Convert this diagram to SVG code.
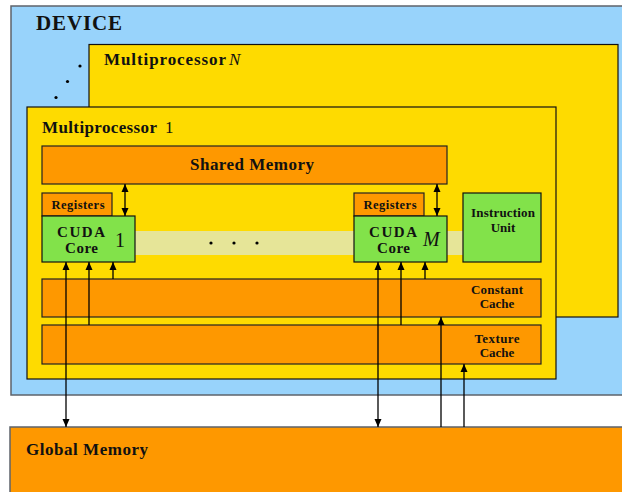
<svg xmlns="http://www.w3.org/2000/svg" width="622" height="492" viewBox="0 0 622 492">
<style>
.dev{fill:#98D3FB;stroke:#5d636b;stroke-width:1.5}
.mp{fill:#FEDB00;stroke:#111;stroke-width:1.2}
.or{fill:#FE9800;stroke:#222;stroke-width:1.2}
.gr{fill:#82E24A;stroke:#111;stroke-width:1.2}
.t{font-family:"Liberation Serif","DejaVu Serif",serif;font-weight:bold;fill:#111}
.n{font-family:"Liberation Serif","DejaVu Serif",serif;font-weight:normal;fill:#111}
.c{text-anchor:middle}
.a{stroke:#000;stroke-width:1.3;fill:none}
</style>
<defs>
<marker id="ah" markerUnits="userSpaceOnUse" markerWidth="9" markerHeight="8" refX="8" refY="4" orient="auto-start-reverse">
<path d="M0,0.5 L8,4 L0,7.5 z" fill="#000"/>
</marker>
</defs>
<g id="device">
<rect class="dev" x="11" y="6" width="620" height="389"/>
<text class="t" x="36" y="30" font-size="21" textLength="86">DEVICE</text>
</g>
<g id="dots-mp">
<circle cx="80" cy="66" r="1.6" fill="#000"/>
<circle cx="67.5" cy="81.5" r="1.6" fill="#000"/>
<circle cx="56" cy="97.5" r="1.6" fill="#000"/>
</g>
<g id="multiprocessorN">
<rect class="mp" x="89" y="44.5" width="529" height="272.5"/>
<text class="t" x="104" y="65" font-size="17" textLength="122">Multiprocessor</text>
<text class="n" x="229" y="65" font-size="17" font-style="italic">N</text>
</g>
<g id="multiprocessor1">
<rect class="mp" x="27" y="107" width="529" height="272"/>
<text class="t" x="42" y="133" font-size="17" textLength="115">Multiprocessor</text>
<text class="n" x="165" y="133" font-size="17">1</text>
</g>
<g id="band">
<rect x="135" y="231" width="328" height="24" fill="#E6E598"/>
<circle cx="211" cy="243" r="1.6" fill="#000"/>
<circle cx="234" cy="243" r="1.6" fill="#000"/>
<circle cx="257" cy="243" r="1.6" fill="#000"/>
</g>
<g id="shared-memory">
<rect class="or" x="42" y="146" width="405" height="38"/>
<text class="t c" x="252" y="170" font-size="17" textLength="124">Shared Memory</text>
</g>
<g id="registers1">
<rect class="or" x="42" y="193" width="70" height="23"/>
<text class="t c" x="78" y="209" font-size="12.5" textLength="53">Registers</text>
</g>
<g id="core1">
<rect class="gr" x="42" y="216" width="93" height="46"/>
<text class="t c" x="81" y="237" font-size="15" textLength="48">CUDA</text>
<text class="t c" x="81.5" y="253" font-size="15" textLength="33">Core</text>
<text class="n" x="115" y="247" font-size="20">1</text>
</g>
<g id="registersM">
<rect class="or" x="354" y="193" width="70" height="23"/>
<text class="t c" x="390" y="209" font-size="12.5" textLength="53">Registers</text>
</g>
<g id="coreM">
<rect class="gr" x="354" y="216" width="93" height="46"/>
<text class="t c" x="393" y="237" font-size="15" textLength="48">CUDA</text>
<text class="t c" x="393.5" y="253" font-size="15" textLength="33">Core</text>
<text class="n" x="423" y="246" font-size="20" font-style="italic">M</text>
</g>
<g id="instruction-unit">
<rect class="gr" x="463" y="193" width="78" height="69"/>
<text class="t c" x="503" y="217" font-size="13" textLength="64">Instruction</text>
<text class="t c" x="503" y="232" font-size="13">Unit</text>
</g>
<g id="constant-cache">
<rect class="or" x="42" y="279" width="499" height="38"/>
<text class="t c" x="497" y="294" font-size="13" textLength="52">Constant</text>
<text class="t c" x="497" y="308" font-size="13">Cache</text>
</g>
<g id="texture-cache">
<rect class="or" x="42" y="325" width="499" height="39"/>
<text class="t c" x="497" y="343" font-size="13" textLength="45">Texture</text>
<text class="t c" x="497" y="357" font-size="13">Cache</text>
</g>
<g id="global-memory">
<rect x="10" y="427" width="620" height="80" fill="#FE9800" stroke="#5d636b" stroke-width="1.5"/>
<text class="t" x="26" y="455" font-size="17" textLength="122">Global Memory</text>
</g>
<g id="connectors">
<line class="a" x1="125" y1="184" x2="125" y2="216" marker-start="url(#ah)" marker-end="url(#ah)"/>
<line class="a" x1="437" y1="184" x2="437" y2="216" marker-start="url(#ah)" marker-end="url(#ah)"/>
<line class="a" x1="66" y1="427" x2="66" y2="262" marker-start="url(#ah)" marker-end="url(#ah)"/>
<line class="a" x1="89" y1="325" x2="89" y2="262" marker-end="url(#ah)"/>
<line class="a" x1="113" y1="279" x2="113" y2="262" marker-end="url(#ah)"/>
<line class="a" x1="378" y1="427" x2="378" y2="262" marker-start="url(#ah)" marker-end="url(#ah)"/>
<line class="a" x1="401" y1="325" x2="401" y2="262" marker-end="url(#ah)"/>
<line class="a" x1="425" y1="279" x2="425" y2="262" marker-end="url(#ah)"/>
<line class="a" x1="441" y1="427" x2="441" y2="317" marker-end="url(#ah)"/>
<line class="a" x1="464" y1="427" x2="464" y2="364" marker-end="url(#ah)"/>
</g>
</svg>
